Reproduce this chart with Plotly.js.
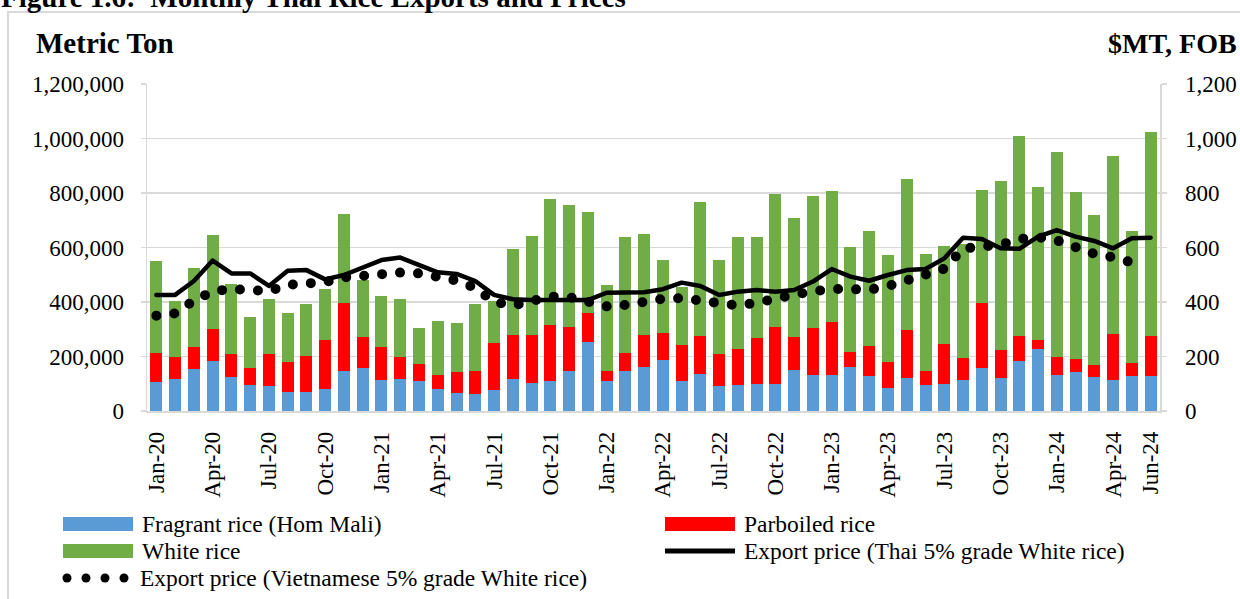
<!DOCTYPE html>
<html>
<head>
<meta charset="utf-8">
<script src="https://cdn.plot.ly/plotly-3.0.1.min.js"></script>
<style>
html, body { margin: 0; padding: 0; background: #fff; overflow: hidden; }
#chart { width: 1240px; height: 599px; }
.scatterlayer path.js-line { stroke-linecap: round; stroke-linejoin: round; }
</style>
</head>
<body>
<div id="chart"></div>
<script>
// ---------- DATA ----------
const months = [
  'Jan-20','Feb-20','Mar-20','Apr-20','May-20','Jun-20','Jul-20','Aug-20','Sep-20','Oct-20','Nov-20','Dec-20',
  'Jan-21','Feb-21','Mar-21','Apr-21','May-21','Jun-21','Jul-21','Aug-21','Sep-21','Oct-21','Nov-21','Dec-21',
  'Jan-22','Feb-22','Mar-22','Apr-22','May-22','Jun-22','Jul-22','Aug-22','Sep-22','Oct-22','Nov-22','Dec-22',
  'Jan-23','Feb-23','Mar-23','Apr-23','May-23','Jun-23','Jul-23','Aug-23','Sep-23','Oct-23','Nov-23','Dec-23',
  'Jan-24','Feb-24','Mar-24','Apr-24','May-24','Jun-24'
];

const tickLabels = [
  'Jan-20','Apr-20','Jul-20','Oct-20','Jan-21','Apr-21','Jul-21','Oct-21','Jan-22','Apr-22',
  'Jul-22','Oct-22','Jan-23','Apr-23','Jul-23','Oct-23','Jan-24','Apr-24','Jun-24'
];

// Metric tons
const fragrant = [
  105000,117000,155000,183000,125000,94000,91000,70000,68000,81000,146000,158000,
  115000,117000,110000,81000,66000,64000,76000,117000,102000,110000,147000,254000,
  109000,148000,163000,188000,111000,135000,92000,95000,98000,99000,150000,132000,
  132000,160000,130000,84000,121000,95000,99000,113000,158000,121000,183000,229000,
  133000,144000,125000,114000,127000,127000
];
const parboiled = [
  109000,82000,81000,119000,83000,64000,118000,110000,134000,181000,250000,115000,
  120000,81000,62000,52000,78000,84000,175000,162000,176000,204000,161000,105000,
  38000,65000,116000,99000,130000,141000,117000,134000,171000,208000,120000,174000,
  193000,57000,109000,97000,177000,53000,148000,83000,238000,104000,93000,32000,
  66000,46000,43000,170000,49000,148000
];
const white = [
  336000,204000,288000,344000,259000,187000,202000,178000,191000,186000,328000,209000,
  188000,212000,133000,197000,178000,244000,154000,315000,363000,463000,449000,372000,
  314000,426000,371000,266000,214000,491000,345000,410000,371000,489000,438000,483000,
  483000,385000,423000,390000,555000,427000,360000,416000,415000,619000,734000,560000,
  751000,613000,551000,652000,486000,750000
];

// $/MT, FOB
const thaiPrice = [
  426,426,477,552,505,505,459,515,517,483,499,527,
  554,563,538,509,503,477,426,410,407,407,407,407,
  434,434,436,447,471,459,426,438,444,438,444,475,
  521,493,478,499,517,521,560,636,631,597,595,640,
  664,640,624,597,634,636
];
const vietPrice = [
  350,358,405,439,448,440,440,463,467,473,490,498,
  506,508,505,489,479,452,400,387,403,420,418,398,
  384,389,404,412,414,404,394,387,397,415,427,439,
  448,447,445,458,479,492,522,596,605,610,631,638,
  626,601,577,564,545,null
];

const seriesNames = [
  'Fragrant rice (Hom Mali)',
  'Parboiled rice',
  'White rice',
  'Export price (Thai 5% grade White rice)',
  'Export price (Vietnamese 5% grade White rice)'
];
const seriesColors = ['#5B9BD5', '#FF0000', '#70AD47', '#000000', '#000000'];

const leftTicks = [0, 200000, 400000, 600000, 800000, 1000000, 1200000];
const rightTicks = [0, 200, 400, 600, 800, 1000, 1200];

const figureTitle = 'Figure 1.6:  Monthly Thai Rice Exports and Prices';
const leftAxisTitle = 'Metric Ton';
const rightAxisTitle = '$MT, FOB';

// ---------- GEOMETRY (pixels) ----------
const W = 1240, H = 599;
const PL = 147, PR = 1160, PT = 84, PB = 411;
const fx = px => (px - PL) / (PR - PL);
const fy = py => (PB - py) / (PB - PT);

const FONT = 'Liberation Serif, Times New Roman, serif';

// boundary tick positions every 3 months
const boundaryTicks = [];
for (let i = -0.5; i <= months.length - 0.5 + 1e-9; i += 3) boundaryTicks.push(i);

// ---------- TRACES ----------
const traces = [
  { type: 'bar', x: months, y: fragrant, name: seriesNames[0], marker: { color: seriesColors[0] }, hoverinfo: 'skip' },
  { type: 'bar', x: months, y: parboiled, name: seriesNames[1], marker: { color: seriesColors[1] }, hoverinfo: 'skip' },
  { type: 'bar', x: months, y: white, name: seriesNames[2], marker: { color: seriesColors[2] }, hoverinfo: 'skip' },
  { type: 'scatter', mode: 'lines', x: months, y: thaiPrice, yaxis: 'y2', name: seriesNames[3],
    line: { color: seriesColors[3], width: 4.5 }, hoverinfo: 'skip' },
  { type: 'scatter', mode: 'lines', x: months, y: vietPrice, yaxis: 'y2', name: seriesNames[4],
    line: { color: seriesColors[4], width: 10, dash: '0px,18px' }, hoverinfo: 'skip' }
];

// ---------- LEGEND (custom, Excel-like) ----------
const shapes = [
  // outer frame
  { type: 'rect', xref: 'paper', yref: 'paper', x0: fx(8), x1: fx(1300), y0: fy(12), y1: fy(700),
    line: { color: '#d9d9d9', width: 2 }, fillcolor: 'rgba(0,0,0,0)', layer: 'below' },
  // swatches
  { type: 'rect', xref: 'paper', yref: 'paper', x0: fx(63), x1: fx(133), y0: fy(531), y1: fy(517),
    line: { width: 0 }, fillcolor: seriesColors[0] },
  { type: 'rect', xref: 'paper', yref: 'paper', x0: fx(665), x1: fx(735), y0: fy(531), y1: fy(517),
    line: { width: 0 }, fillcolor: seriesColors[1] },
  { type: 'rect', xref: 'paper', yref: 'paper', x0: fx(63), x1: fx(133), y0: fy(558), y1: fy(544),
    line: { width: 0 }, fillcolor: seriesColors[2] },
  { type: 'line', xref: 'paper', yref: 'paper', x0: fx(665), x1: fx(735), y0: fy(551), y1: fy(551),
    line: { color: seriesColors[3], width: 5 } }
];
[67, 86, 105, 124].forEach(cx => {
  shapes.push({ type: 'circle', xref: 'paper', yref: 'paper',
    x0: fx(cx - 4.5), x1: fx(cx + 4.5), y0: fy(578 + 4.5), y1: fy(578 - 4.5),
    line: { width: 0 }, fillcolor: seriesColors[4] });
});

const legendPos = [[140, 524], [742, 524], [140, 551], [742, 551], [138, 578]];
const annotations = [
  { text: '<b>' + figureTitle + '</b>', xref: 'paper', yref: 'paper', x: fx(-1), y: fy(15),
    xanchor: 'left', yanchor: 'bottom', showarrow: false, font: { family: FONT, size: 29, color: '#000' } },
  { text: '<b>' + leftAxisTitle + '</b>', xref: 'paper', yref: 'paper', x: fx(34), y: fy(43),
    xanchor: 'left', yanchor: 'middle', showarrow: false, font: { family: FONT, size: 29, color: '#000' } },
  { text: '<b>' + rightAxisTitle + '</b>', xref: 'paper', yref: 'paper', x: fx(1239), y: fy(43),
    xanchor: 'right', yanchor: 'middle', showarrow: false, font: { family: FONT, size: 28, color: '#000' } }
];
seriesNames.forEach((nm, i) => {
  annotations.push({ text: nm, xref: 'paper', yref: 'paper', x: fx(legendPos[i][0]), y: fy(legendPos[i][1]),
    xanchor: 'left', yanchor: 'middle', showarrow: false, font: { family: FONT, size: 23.5, color: '#000' } });
});

// ---------- LAYOUT ----------
const layout = {
  width: W, height: H,
  margin: { l: PL, r: W - PR, t: PT, b: H - PB, pad: 0 },
  paper_bgcolor: '#ffffff', plot_bgcolor: '#ffffff',
  font: { family: FONT, size: 23, color: '#000' },
  barmode: 'stack', bargap: 0.36,
  showlegend: false,
  xaxis: {
    type: 'category', range: [-0.5, months.length - 0.5],
    tickmode: 'array', tickvals: tickLabels, ticktext: tickLabels, tickangle: -90,
    ticks: '', showgrid: false, zeroline: false,
    showline: true, linecolor: '#d9d9d9', linewidth: 1.5,
    ticklabelstandoff: 10, tickfont: { family: FONT, size: 23, color: '#000' }
  },
  xaxis2: {
    overlaying: 'x', anchor: 'y', range: [-0.5, months.length - 0.5],
    tickmode: 'array', tickvals: boundaryTicks, ticks: 'outside', ticklen: 6,
    tickcolor: '#d9d9d9', tickwidth: 1.5, showticklabels: false,
    showgrid: false, zeroline: false, showline: false
  },
  yaxis: {
    range: [0, 1200000], tickmode: 'array', tickvals: leftTicks, tickformat: ',d',
    ticks: 'outside', ticklen: 5, tickcolor: '#d9d9d9', tickwidth: 1.5,
    showline: true, linecolor: '#d9d9d9', linewidth: 1.5,
    showgrid: true, gridcolor: '#d9d9d9', gridwidth: 1.5, zeroline: false,
    ticklabelstandoff: 12, tickfont: { family: FONT, size: 23, color: '#000' }
  },
  yaxis2: {
    overlaying: 'y', side: 'right', range: [0, 1200], tickmode: 'array', tickvals: rightTicks, tickformat: ',d',
    ticks: 'outside', ticklen: 5, tickcolor: '#d9d9d9', tickwidth: 1.5,
    showline: true, linecolor: '#d9d9d9', linewidth: 1.5,
    showgrid: false, zeroline: false,
    ticklabelstandoff: 14, tickfont: { family: FONT, size: 23, color: '#000' }
  },
  shapes: shapes,
  annotations: annotations
};

Plotly.newPlot('chart', traces, layout, { staticPlot: true, displayModeBar: false });
</script>
</body>
</html>
